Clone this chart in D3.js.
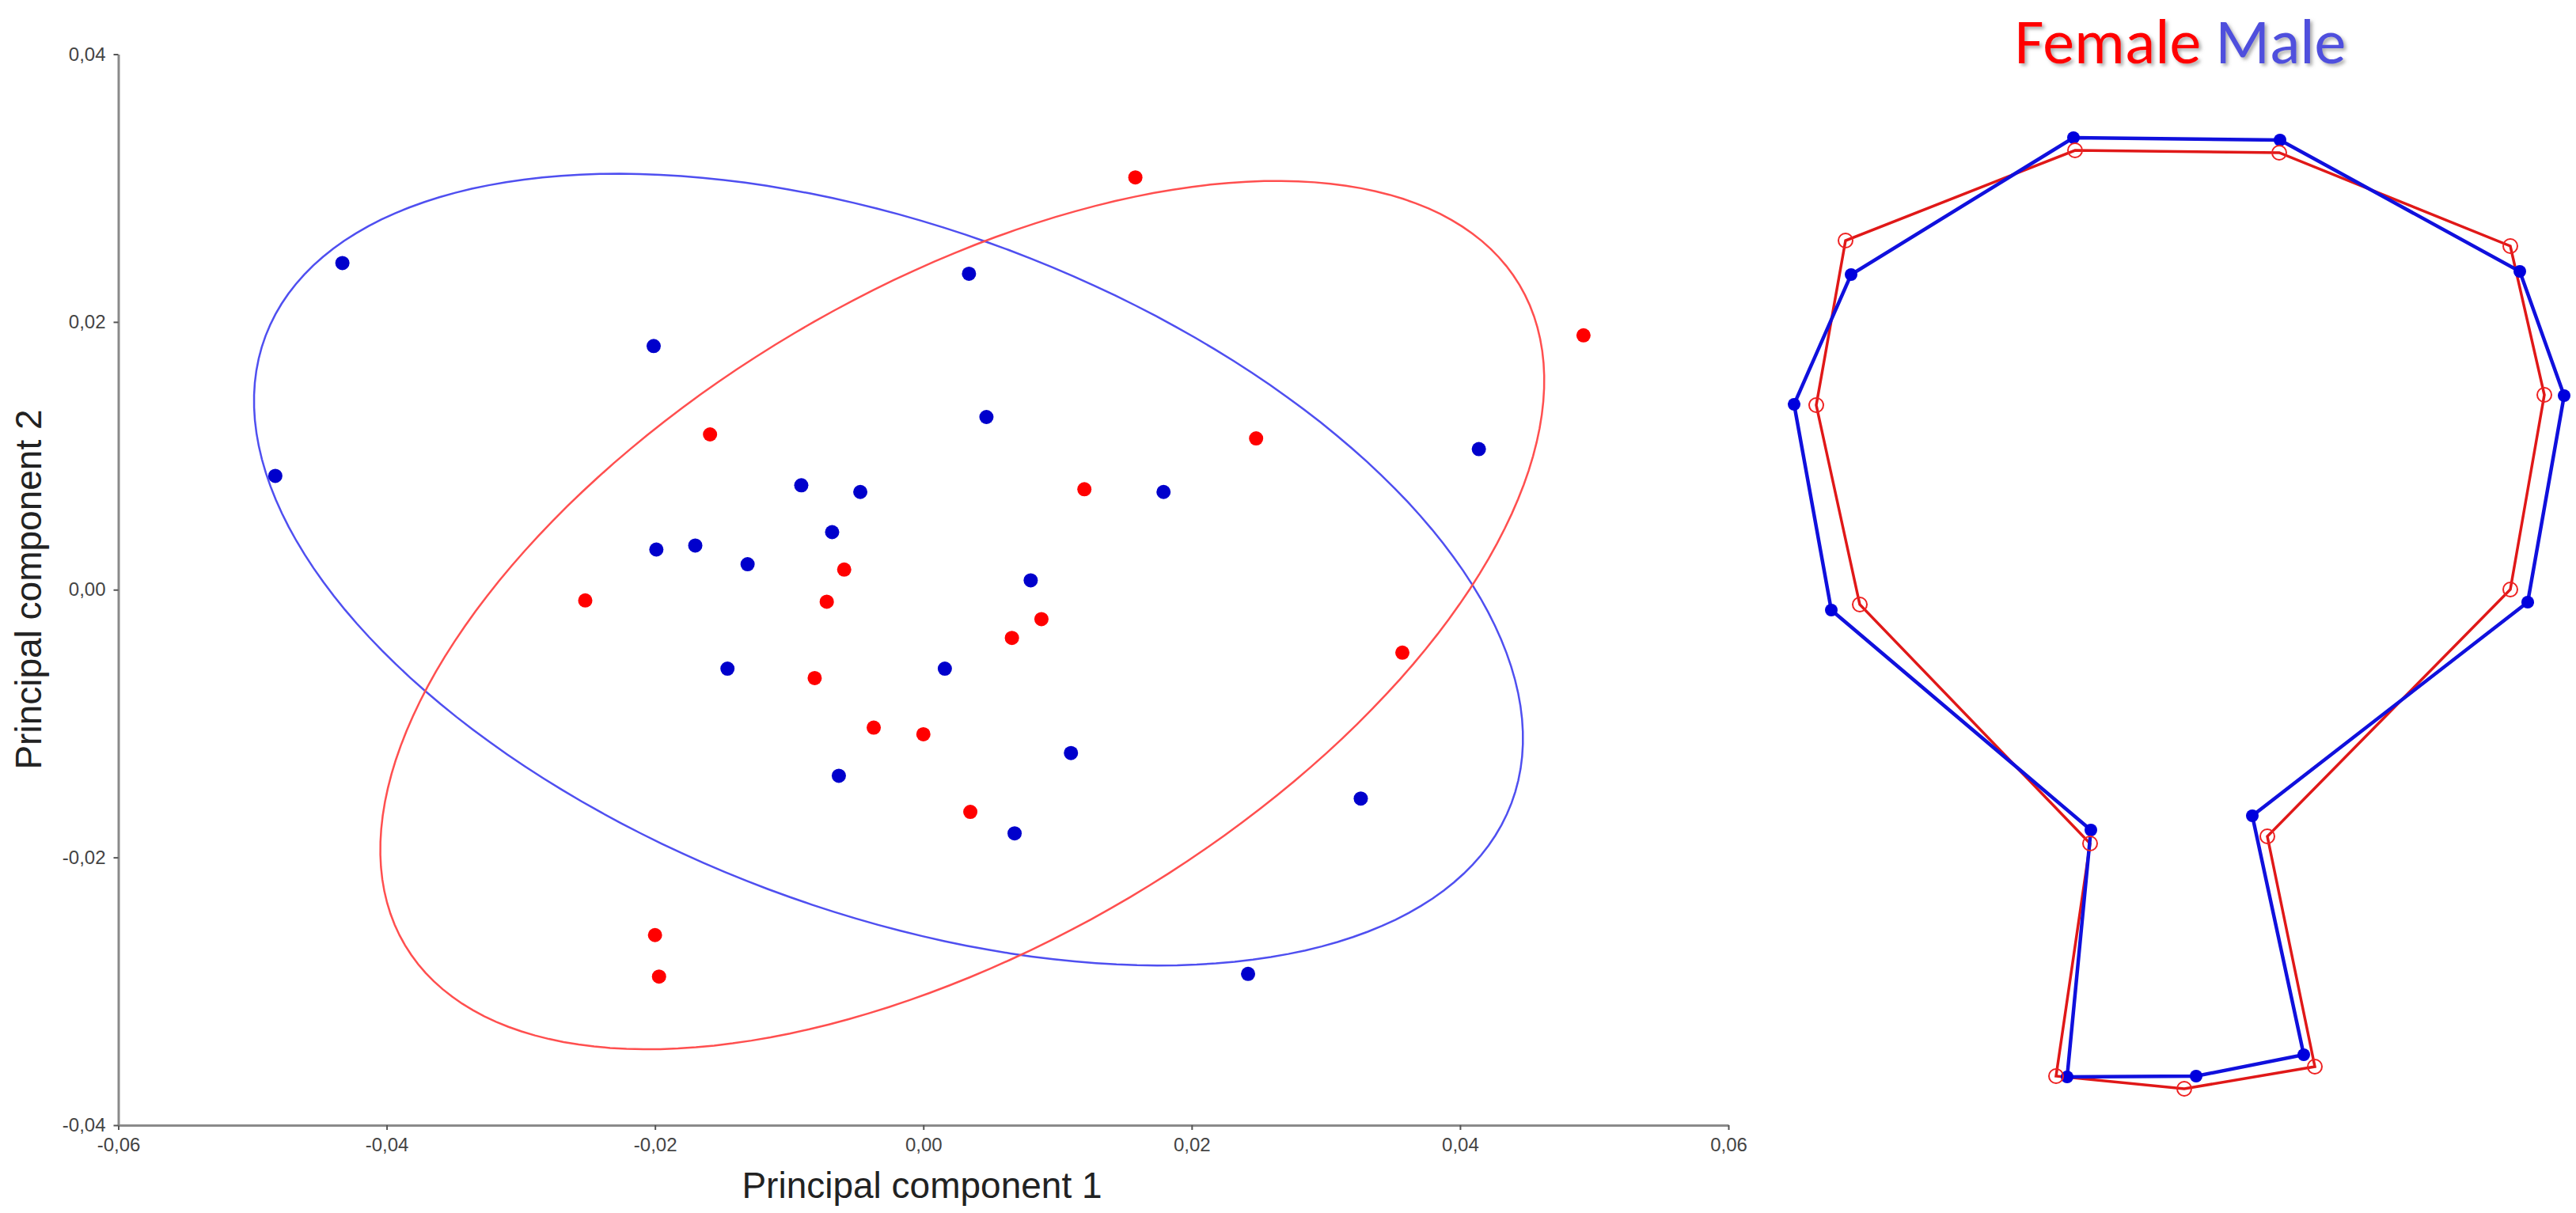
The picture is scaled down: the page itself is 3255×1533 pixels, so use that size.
<!DOCTYPE html>
<html lang="en">
<head>
    <meta charset="UTF-8">
    <title>PCA scatter and mean shapes</title>
    <script src="https://d3js.org/d3.v7.min.js"></script>
    <style>
        html, body { margin: 0; padding: 0; background: #fff; }
        svg { display: block; }
    </style>
</head>
<body>
    <div id="chart"></div>

    <script>
        // axis ticks
        var xTicks = [-0.06, -0.04, -0.02, 0, 0.02, 0.04, 0.06];
        var yTicks = [-0.04, -0.02, 0, 0.02, 0.04];

        // PC scores, males (blue)
        var maleX = [-0.0433, -0.0483, -0.0201, -0.0199, -0.0170, -0.0131, -0.0091, -0.0047, -0.0068,
                     0.0034, 0.0047, 0.0179, 0.0414, 0.0080, -0.0146, -0.0063, 0.0016, 0.0110, 0.0068, 0.0326, 0.0242];
        var maleY = [0.0244, 0.0085, 0.0182, 0.0030, 0.0033, 0.0019, 0.0078, 0.0073, 0.0043,
                     0.0236, 0.0129, 0.0073, 0.0105, 0.0007, -0.0059, -0.0139, -0.0059, -0.0122, -0.0182, -0.0156, -0.0287];

        // PC scores, females (red)
        var femaleX = [0.0158, 0.0492, -0.0159, 0.0248, 0.0120, -0.0252, -0.0059, -0.0072, 0.0066,
                       0.0088, -0.0081, -0.0037, 0.0000, 0.0035, 0.0357, -0.0200, -0.0197];
        var femaleY = [0.0308, 0.0190, 0.0116, 0.0113, 0.0075, -0.0008, 0.0015, -0.0009, -0.0036,
                       -0.0022, -0.0066, -0.0103, -0.0108, -0.0166, -0.0047, -0.0258, -0.0289];

        // confidence ellipses: centre x, centre y, semi-major, semi-minor, angle (deg)
        var maleEllipse = [-0.0026, 0.0015, 0.0496, 0.0255, -20.6];
        var femaleEllipse = [0.0029, -0.0019, 0.0483, 0.0245, 30.7];

        // mean shapes (landmarks, closed outline)
        var maleShapeX = [-0.130, 0.131, 0.434, 0.490, 0.444, 0.096, 0.161, 0.025, -0.138, -0.108, -0.436, -0.483, -0.411];
        var maleShapeY = [0.596, 0.593, 0.427, 0.270, 0.009, -0.261, -0.563, -0.590, -0.591, -0.279, -0.001, 0.259, 0.423];
        var femaleShapeX = [-0.128, 0.130, 0.422, 0.465, 0.422, 0.115, 0.175, 0.010, -0.152, -0.109, -0.400, -0.455, -0.418];
        var femaleShapeY = [0.580, 0.577, 0.459, 0.271, 0.025, -0.287, -0.578, -0.606, -0.590, -0.296, 0.006, 0.258, 0.466];

        var w = 3255;
        var h = 1533;

        var svg = d3.select("#chart").append("svg")
            .attr("width", w)
            .attr("height", h);

        var defs = svg.append("defs");
        defs.append("filter")
            .attr("id", "shadow")
            .attr("x", "-10%").attr("y", "-20%")
            .attr("width", "130%").attr("height", "160%")
            .append("feDropShadow")
            .attr("dx", 3).attr("dy", 3)
            .attr("stdDeviation", 2)
            .attr("flood-color", "#777")
            .attr("flood-opacity", 0.6);

        // ---------- scatter ----------
        var xScale = d3.scaleLinear()
            .domain([-0.06, 0.06])
            .range([149.5, 2184]);

        var yScale = d3.scaleLinear()
            .domain([-0.04, 0.04])
            .range([1422, 68.5]);

        var fmt = function(d) {
            return d3.format(".2f")(d).replace("−", "-").replace(".", ",");
        };

        var xAxis = svg.append("g")
            .attr("transform", "translate(0," + yScale(-0.04) + ")")
            .call(d3.axisBottom(xScale).tickValues(xTicks).tickFormat(fmt).tickSize(6).tickSizeOuter(0).tickPadding(10));

        var yAxis = svg.append("g")
            .attr("transform", "translate(" + xScale(-0.06) + ",0)")
            .call(d3.axisLeft(yScale).tickValues(yTicks).tickFormat(fmt).tickSize(6).tickSizeOuter(0).tickPadding(10));

        [xAxis, yAxis].forEach(function(g) {
            g.select(".domain").attr("stroke", "#8a8a8a").attr("stroke-width", 3);
            g.selectAll(".tick line").attr("stroke", "#555").attr("stroke-width", 2);
            g.selectAll(".tick text")
                .attr("fill", "#444")
                .style("font-family", "'Liberation Sans', Arial, sans-serif")
                .style("font-size", "24px");
        });

        svg.append("text")
            .attr("x", 1165)
            .attr("y", 1514)
            .attr("text-anchor", "middle")
            .style("font-family", "'Liberation Sans', Arial, sans-serif")
            .style("font-size", "46px")
            .attr("fill", "#222")
            .text("Principal component 1");

        svg.append("text")
            .attr("transform", "translate(52,745) rotate(-90)")
            .attr("text-anchor", "middle")
            .style("font-family", "'Liberation Sans', Arial, sans-serif")
            .style("font-size", "46px")
            .attr("fill", "#222")
            .text("Principal component 2");

        // ellipse outline sampled from its parameters, drawn through the scales
        function ellipsePoints(e) {
            var rad = e[4] * Math.PI / 180;
            return d3.range(0, 360, 2).map(function(t) {
                var a = t * Math.PI / 180;
                var ex = e[2] * Math.cos(a), ey = e[3] * Math.sin(a);
                return [e[0] + ex * Math.cos(rad) - ey * Math.sin(rad),
                        e[1] + ex * Math.sin(rad) + ey * Math.cos(rad)];
            });
        }

        var ellLine = d3.line()
            .x(function(d) { return xScale(d[0]); })
            .y(function(d) { return yScale(d[1]); })
            .curve(d3.curveLinearClosed);

        svg.append("path")
            .attr("d", ellLine(ellipsePoints(maleEllipse)))
            .attr("fill", "none")
            .attr("stroke", "#4f4ff0")
            .attr("stroke-width", 2.5);

        svg.append("path")
            .attr("d", ellLine(ellipsePoints(femaleEllipse)))
            .attr("fill", "none")
            .attr("stroke", "#ff4f4f")
            .attr("stroke-width", 2.5);

        svg.append("g").selectAll("circle")
            .data(d3.range(maleX.length))
            .enter()
            .append("circle")
            .attr("cx", function(i) { return xScale(maleX[i]); })
            .attr("cy", function(i) { return yScale(maleY[i]); })
            .attr("r", 9)
            .attr("fill", "#0000cc");

        svg.append("g").selectAll("circle")
            .data(d3.range(femaleX.length))
            .enter()
            .append("circle")
            .attr("cx", function(i) { return xScale(femaleX[i]); })
            .attr("cy", function(i) { return yScale(femaleY[i]); })
            .attr("r", 9)
            .attr("fill", "#ff0000");

        // ---------- mean shapes ----------
        var sx = d3.scaleLinear()
            .domain([-0.5, 0.5])
            .range([2250, 3250]);

        var sy = d3.scaleLinear()
            .domain([-0.8, 0.8])
            .range([1570, -30]);

        function outline(xs, ys) {
            return d3.line()
                .x(function(i) { return sx(xs[i]); })
                .y(function(i) { return sy(ys[i]); })
                .curve(d3.curveLinearClosed)(d3.range(xs.length));
        }

        svg.append("path")
            .attr("d", outline(femaleShapeX, femaleShapeY))
            .attr("fill", "none")
            .attr("stroke", "#e01818")
            .attr("stroke-width", 3.5);

        svg.append("path")
            .attr("d", outline(maleShapeX, maleShapeY))
            .attr("fill", "none")
            .attr("stroke", "#1010dd")
            .attr("stroke-width", 4.5);

        svg.append("g").selectAll("circle")
            .data(d3.range(maleShapeX.length))
            .enter()
            .append("circle")
            .attr("cx", function(i) { return sx(maleShapeX[i]); })
            .attr("cy", function(i) { return sy(maleShapeY[i]); })
            .attr("r", 8)
            .attr("fill", "#0000dd");

        svg.append("g").selectAll("circle")
            .data(d3.range(femaleShapeX.length))
            .enter()
            .append("circle")
            .attr("cx", function(i) { return sx(femaleShapeX[i]); })
            .attr("cy", function(i) { return sy(femaleShapeY[i]); })
            .attr("r", 9)
            .attr("fill", "none")
            .attr("stroke", "#ee2222")
            .attr("stroke-width", 2);

        var title = svg.append("text")
            .attr("x", 2755)
            .attr("y", 80)
            .attr("text-anchor", "middle")
            .attr("filter", "url(#shadow)")
            .style("font-family", "Calibri, Carlito, Lato, sans-serif")
            .style("font-size", "80px");

        title.append("tspan").attr("fill", "#ff0000").text("Female");
        title.append("tspan").attr("fill", "#5050dd").text(" Male");
    </script>
</body>
</html>
